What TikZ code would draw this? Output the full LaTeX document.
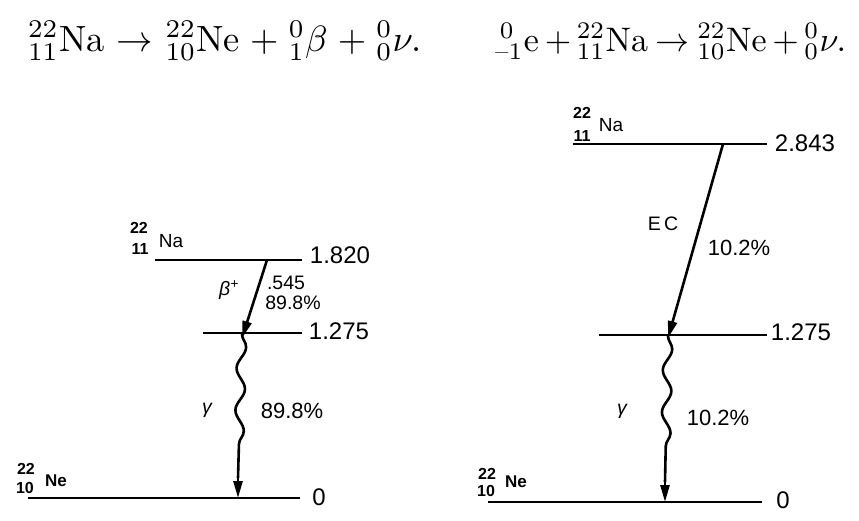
\documentclass[tikz,border=0pt]{standalone}
\usepackage{fontspec}
\newfontfamily\dsans{Liberation Sans}
\usetikzlibrary{arrows.meta,decorations.pathmorphing}
\begin{document}
\begin{tikzpicture}[x=1pt,y=-1pt,
  level/.style={line width=1.6pt},
  lab/.style={font=\dsans\fontsize{24}{26}\selectfont, inner sep=0pt},
  small/.style={font=\dsans\fontsize{19.5}{22}\selectfont, inner sep=0pt},
  mid/.style={font=\dsans\fontsize{22}{24}\selectfont, inner sep=0pt},
  iso/.style={font=\dsans\bfseries\fontsize{16}{18}\selectfont, inner sep=0pt},
  eq/.style={inner sep=0pt, anchor=base west},
  decay/.style={line width=2.6pt, -{Triangle[length=17pt,width=9pt]}},
  wavy/.style={line width=2.6pt, decorate, decoration={snake, amplitude=4.5pt, segment length=42pt, post length=20pt}},
  tip/.style={line width=2.6pt, -{Triangle[length=17pt,width=9pt]}}
]
\useasboundingbox (0,0) rectangle (859,520);
% equations
\node[eq] (eqL) at (28,51) {\scalebox{3.65}{\medmuskip=5mu\thickmuskip=6mu$^{22}_{11}\mathrm{Na}\rightarrow{}^{22}_{10}\mathrm{Ne}+{}^{0}_{1}\beta+{}^{0}_{0}\nu.$}};
\node[eq] (eqR) at (495,51) {\scalebox{3.4}{\medmuskip=3mu\thickmuskip=4mu$^{\,0}_{\hbox{\scriptsize\rmfamily –1}}\mathrm{e}+{}^{22}_{11}\mathrm{Na}\rightarrow{}^{22}_{10}\mathrm{Ne}+{}^{0}_{0}\nu.$}};

% ---------- left scheme ----------
\coordinate (LaA) at (155,260); \coordinate (LaB) at (302,260);
\coordinate (LbA) at (203,333); \coordinate (LbB) at (302,333);
\coordinate (LcA) at (28,498);  \coordinate (LcB) at (300,498);
\draw[level] (LaA) -- (LaB);
\draw[level] (LbA) -- (LbB);
\draw[level] (LcA) -- (LcB);
\node[lab] (l1820) at (340,255) {1.820};
\node[lab] (l1275) at (339,331) {1.275};
\node[lab] (l0) at (319,497) {0};
\node[iso] (lNaA) at (139,228) {22};
\node[iso] (lNaZ) at (140,249) {11};
\node[font=\dsans\fontsize{19}{20}\selectfont, inner sep=0pt] (lNa) at (171,241) {Na};
\node[iso] (lNeA) at (26,469) {22};
\node[iso] (lNeZ) at (25,488) {10};
\node[iso,font=\dsans\bfseries\fontsize{17}{18}\selectfont] (lNe) at (56,481) {Ne};
\coordinate (Lbs) at (267,260);
\coordinate (Lbe) at (242,338);
\draw[decay] (Lbs) -- (Lbe);
\node[small] (lbeta) at (229,290) {\itshape β\textsuperscript{+}};
\node[small] (l545) at (286,283) {.545};
\node[small] (l898a) at (293,303) {89.8\%};
\coordinate (Lgs) at (242,334);
\coordinate (Lgm) at (238,478);
\coordinate (Lge) at (238,498);
\draw[wavy] (Lgs) -- (Lgm);
\draw[tip] (Lgm) -- (Lge);
\node[small] (lgam) at (207,410) {\itshape γ};
\node[mid] (l898b) at (292,411) {89.8\%};

% ---------- right scheme ----------
\coordinate (RaA) at (573,144); \coordinate (RaB) at (767,144);
\coordinate (RbA) at (599,335); \coordinate (RbB) at (767,335);
\coordinate (RcA) at (488,502); \coordinate (RcB) at (762,502);
\draw[level] (RaA) -- (RaB);
\draw[level] (RbA) -- (RbB);
\draw[level] (RcA) -- (RcB);
\node[lab] (r2843) at (805,143) {2.843};
\node[lab] (r1275) at (801,332) {1.275};
\node[lab] (r0) at (783,500) {0};
\node[iso] (rNaA) at (582,113) {22};
\node[iso] (rNaZ) at (582,136) {11};
\node[font=\dsans\fontsize{19}{20}\selectfont, inner sep=0pt] (rNa) at (611,125) {Na};
\node[iso] (rNeA) at (487,474) {22};
\node[iso] (rNeZ) at (486,491) {10};
\node[iso,font=\dsans\bfseries\fontsize{17}{18}\selectfont] (rNe) at (516,482) {Ne};
\coordinate (Res) at (723,144);
\coordinate (Ree) at (668,338);
\draw[decay] (Res) -- (Ree);
\node[small] (rEC) at (663,224) {E\,C};
\node[mid] (r102a) at (739,248) {10.2\%};
\coordinate (Rgs) at (668,336);
\coordinate (Rgm) at (665,482);
\coordinate (Rge) at (665,502);
\draw[wavy] (Rgs) -- (Rgm);
\draw[tip] (Rgm) -- (Rge);
\node[small] (rgam) at (622,411) {\itshape γ};
\node[mid] (r102b) at (718,418) {10.2\%};
\end{tikzpicture}
\end{document}
